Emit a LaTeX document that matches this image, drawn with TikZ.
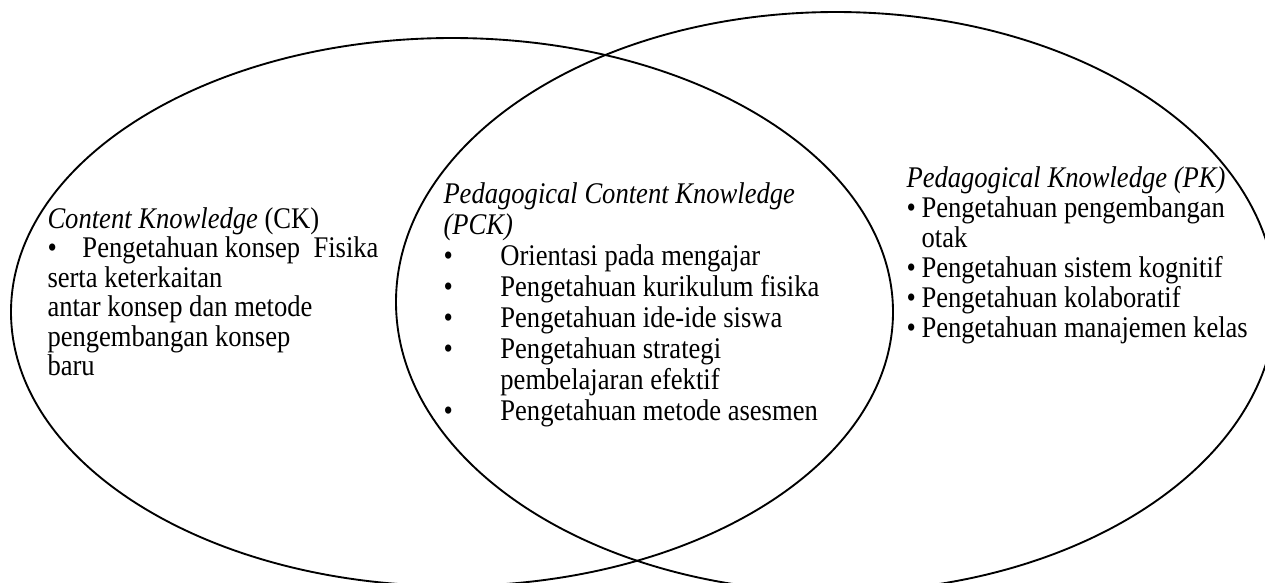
\documentclass[tikz,border=0pt]{standalone}
\usepackage{fontspec}
\setmainfont{Liberation Serif}
\usetikzlibrary{positioning}

\newcommand{\blt}[1]{\makebox[#1][l]{\textbullet}}
\newcommand{\narrow}[1]{\scalebox{0.886}[1]{#1}}

\begin{document}
\begin{tikzpicture}[x=0.4pt,y=-0.4pt]
% --- styles ---------------------------------------------------
\tikzstyle{venn}   =[line width=0.75pt]
\tikzstyle{block}  =[anchor=base west,inner sep=0pt]

% --- frame ----------------------------------------------------
\useasboundingbox (0,0) rectangle (1265,582);
\clip (0,0) rectangle (1265,582);

% --- key coordinates ------------------------------------------
\coordinate (cL) at (452,312);   % centre of CK ellipse
\coordinate (cR) at (836,302);   % centre of PK ellipse

% --- the two sets ---------------------------------------------
\draw[venn] (cL) ellipse [x radius=441,y radius=274];
\draw[venn] (cR) ellipse [x radius=440,y radius=290];

% --- CK text --------------------------------------------------
\node[block] (ck) at (47,228) {\fontsize{12}{11.6}\selectfont\narrow{%
  \begin{tabular}[t]{@{}l@{}}
  \textit{Content Knowledge} (CK)\\
  \blt{15.8pt}Pengetahuan konsep\ \ Fisika\\
  serta keterkaitan\\
  antar konsep dan metode\\
  pengembangan konsep\\
  baru
  \end{tabular}}};

% --- PCK text -------------------------------------------------
\node[block] (pck) at (443,203) {\fontsize{12}{12.4}\selectfont\narrow{%
  \begin{tabular}[t]{@{}l@{}}
  \textit{Pedagogical Content Knowledge}\\
  \textit{(PCK)}\\
  \blt{25.7pt}Orientasi pada mengajar\\
  \blt{25.7pt}Pengetahuan kurikulum fisika\\
  \blt{25.7pt}Pengetahuan ide-ide siswa\\
  \blt{25.7pt}Pengetahuan strategi\\
  \hspace*{25.7pt}pembelajaran efektif\\
  \blt{25.7pt}Pengetahuan metode asesmen
  \end{tabular}}};

% --- PK text --------------------------------------------------
\node[block] (pk) at (906,187) {\fontsize{12}{12}\selectfont\narrow{%
  \begin{tabular}[t]{@{}l@{}}
  \textit{Pedagogical Knowledge (PK)}\\
  \blt{6.8pt}Pengetahuan pengembangan\\
  \hspace*{6.8pt}otak\\
  \blt{6.8pt}Pengetahuan sistem kognitif\\
  \blt{6.8pt}Pengetahuan kolaboratif\\
  \blt{6.8pt}Pengetahuan manajemen kelas
  \end{tabular}}};

\end{tikzpicture}
\end{document}
